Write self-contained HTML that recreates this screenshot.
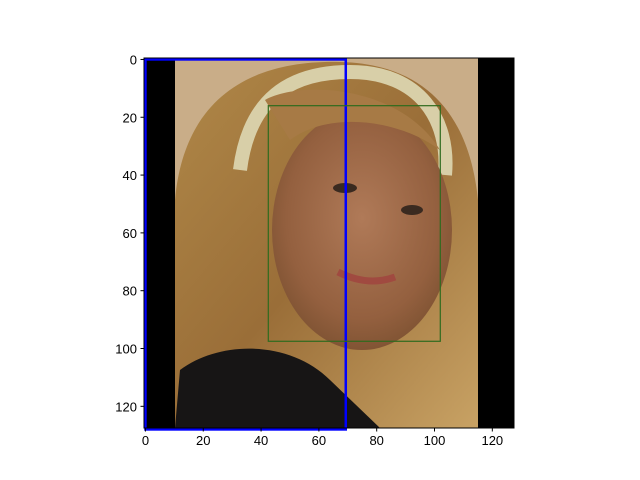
<!DOCTYPE html>
<html><head><meta charset="utf-8"><style>
body{margin:0;background:#fff;}
svg{display:block;font-family:"Liberation Sans",sans-serif;}
</style></head><body>
<svg id="chart" width="640" height="480">
<defs>
<radialGradient id="skin" cx="0.5" cy="0.45" r="0.6"><stop offset="0" stop-color="#b07a58"/><stop offset="0.7" stop-color="#94603f"/><stop offset="1" stop-color="#7a5030"/></radialGradient>
<linearGradient id="hair" x1="0" y1="0" x2="1" y2="1"><stop offset="0" stop-color="#b08848"/><stop offset="0.5" stop-color="#9a6e38"/><stop offset="1" stop-color="#c8a264"/></linearGradient>
<clipPath id="clip"><rect x="144" y="58" width="370" height="370"/></clipPath>
</defs>
<g clip-path="url(#clip)">
<rect x="144" y="58" width="370" height="370" fill="#c9ad88"/>
<path d="M175 200 C185 90 260 60 340 62 C430 64 470 120 478 200 L478 428 L175 428 Z" fill="url(#hair)"/>
<path d="M240 170 C250 90 300 72 350 72 C420 72 450 120 445 175" fill="none" stroke="#d8cfa8" stroke-width="14"/>
<ellipse cx="362" cy="230" rx="90" ry="120" fill="url(#skin)"/>
<path d="M265 100 C300 80 400 85 440 150 C400 120 330 110 290 140 Z" fill="#a77a45"/>
<ellipse cx="345" cy="188" rx="12" ry="5" fill="#3a2a20"/>
<ellipse cx="412" cy="210" rx="11" ry="5" fill="#3a2a20"/>
<path d="M338 272 Q368 287 395 277" stroke="#a04a40" stroke-width="7" fill="none"/>
<path d="M175 428 L180 370 C220 340 290 340 330 380 L380 428 Z" fill="#171515"/>
<rect x="144" y="58" width="31" height="370" fill="#000"/>
<rect x="478" y="58" width="36" height="370" fill="#000"/>
</g>
<g id="boxes"></g>
<rect x="144" y="58" width="370" height="370" fill="none" stroke="#000" stroke-width="1"/>
<g id="ticks"></g>
</svg>
<script>
const xTicks=[0,20,40,60,80,100,120];
const yTicks=[0,20,40,60,80,100,120];
const boxX0=[0,42.5];
const boxY0=[0,16];
const boxX1=[69.3,102];
const boxY1=[128,97.5];
const boxColor=['#0000ff','#2e6b1e'];
const boxWidth=[2.5,1.2];
const x=v=>144+(v+0.5)*370/128;
const y=v=>58+(v+0.5)*370/128;
const NS='http://www.w3.org/2000/svg';
const bg=document.getElementById('boxes');
for(let i=0;i<boxX0.length;i++){
 const r=document.createElementNS(NS,'rect');
 r.setAttribute('x',x(boxX0[i]));r.setAttribute('y',y(boxY0[i]));
 r.setAttribute('width',x(boxX1[i])-x(boxX0[i]));r.setAttribute('height',y(boxY1[i])-y(boxY0[i]));
 r.setAttribute('fill','none');r.setAttribute('stroke',boxColor[i]);r.setAttribute('stroke-width',boxWidth[i]);
 
 
 bg.appendChild(r);
}
const tg=document.getElementById('ticks');
xTicks.forEach(v=>{
 const l=document.createElementNS(NS,'line');
 l.setAttribute('x1',x(v));l.setAttribute('x2',x(v));l.setAttribute('y1',428);l.setAttribute('y2',431.5);l.setAttribute('stroke','#000');
 
 
 tg.appendChild(l);
 const t=document.createElementNS(NS,'text');
 t.setAttribute('x',x(v));t.setAttribute('y',445);t.setAttribute('text-anchor','middle');t.setAttribute('font-size','13');
 t.textContent=v;
 
 
 tg.appendChild(t);
});
yTicks.forEach(v=>{
 const l=document.createElementNS(NS,'line');
 l.setAttribute('x1',140.5);l.setAttribute('x2',144);l.setAttribute('y1',y(v));l.setAttribute('y2',y(v));l.setAttribute('stroke','#000');
 
 
 tg.appendChild(l);
 const t=document.createElementNS(NS,'text');
 t.setAttribute('x',137);t.setAttribute('y',y(v)+5);t.setAttribute('text-anchor','end');t.setAttribute('font-size','13');
 t.textContent=v;
 
 
 tg.appendChild(t);
});
</script>
</body></html>
